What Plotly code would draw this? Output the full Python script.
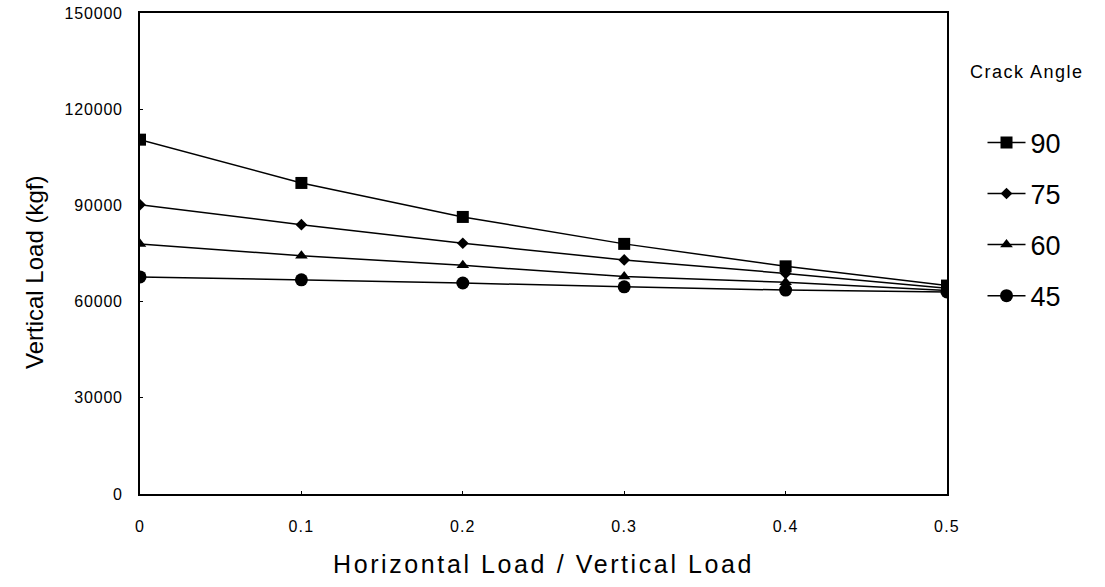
import plotly.graph_objects as go

x_ratio = [0, 0.1, 0.2, 0.3, 0.4, 0.5]
x_labels = ["0", "0.1", "0.2", "0.3", "0.4", "0.5"]
y_ticks = [0, 30000, 60000, 90000, 120000, 150000]
y_labels = ["0", "30000", "60000", "90000", "120000", "150000"]
angle_90 = [110500, 97000, 86400, 78000, 71000, 65000]
angle_75 = [90200, 84000, 78200, 73000, 68800, 64200]
angle_60 = [78000, 74300, 71300, 67800, 66000, 63500]
angle_45 = [67700, 66800, 65800, 64600, 63600, 63000]

series = [
    ("90", angle_90, "square", 12),
    ("75", angle_75, "diamond", 9),
    ("60", angle_60, "triangle-up", 11),
    ("45", angle_45, "circle", 13),
]


def spaced(t, px):
    return '<span style="letter-spacing:%spx">%s</span>' % (px, t)


fig = go.Figure()
for name, vals, sym, sz in series:
    fig.add_trace(go.Scatter(
        x=x_ratio, y=vals, name=name, mode="lines+markers",
        line=dict(color="black", width=1.5),
        marker=dict(symbol=sym, size=sz, color="black"),
        legendgroup="g" + name,
    ))

tickfont = dict(size=16, family="Liberation Sans, Arial", color="black")

fig.update_layout(
    width=1105, height=587,
    margin=dict(l=140, r=158, t=13, b=93),
    paper_bgcolor="white", plot_bgcolor="white",
    font=dict(family="Liberation Sans, Arial, sans-serif", color="black"),
    showlegend=True,
    legend=dict(
        x=1.044, xanchor="left", y=0.781, yanchor="top",
        font=dict(size=27, color="black"),
        tracegroupgap=13, itemwidth=38,
        bgcolor="rgba(0,0,0,0)",
    ),
    xaxis=dict(
        range=[0, 0.5], tickvals=x_ratio, ticktext=[spaced(t, 1.2) for t in x_labels],
        showline=True, linecolor="black", linewidth=2, mirror=True,
        showgrid=False, zeroline=False, ticks="inside", ticklen=3, tickcolor="black",
        tickfont=tickfont, ticklabelstandoff=17,
        automargin=False,
    ),
    yaxis=dict(
        range=[0, 150000], tickvals=y_ticks, ticktext=[spaced(t, 0.8) for t in y_labels],
        showline=True, linecolor="black", linewidth=2, mirror=True,
        showgrid=False, zeroline=False, ticks="inside", ticklen=3, tickcolor="black",
        tickfont=tickfont, ticklabelstandoff=12,
        automargin=False,
    ),
    annotations=[
        dict(text=spaced("Crack Angle", 1.5), xref="paper", yref="paper",
             x=1.026, y=0.877, xanchor="left", yanchor="middle",
             showarrow=False, font=dict(size=18, color="black")),
        dict(text=spaced("Horizontal Load / Vertical Load", 2.6), xref="paper", yref="paper",
             x=0.5, y=(494 - 564) / 481, xanchor="center", yanchor="middle",
             showarrow=False, font=dict(size=25, color="black")),
        dict(text="Vertical Load (kgf)", xref="paper", yref="paper",
             x=(34 - 140) / 807, y=(494 - 273) / 481, xanchor="center", yanchor="middle",
             textangle=-90, showarrow=False, font=dict(size=24, color="black")),
    ],
)

fig.write_html("out.html")
